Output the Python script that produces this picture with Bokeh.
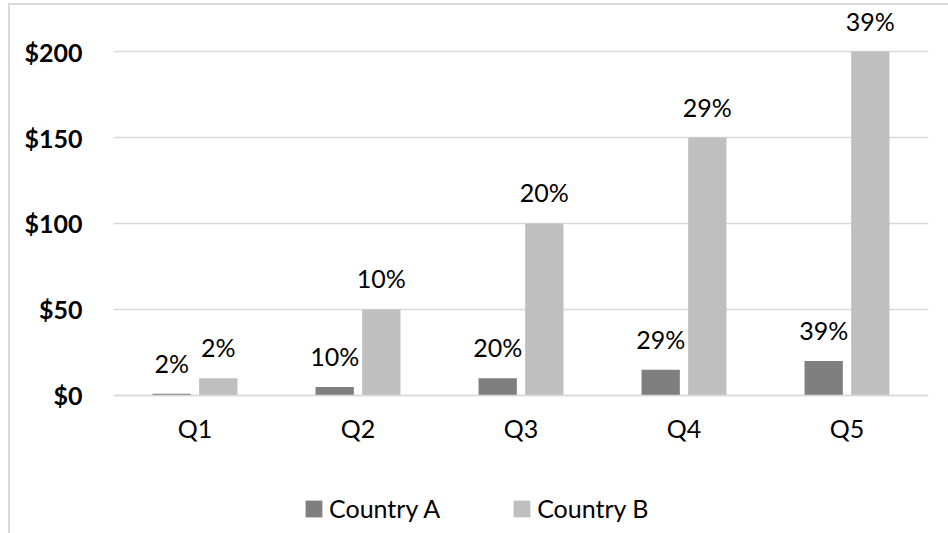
from bokeh.plotting import figure
from bokeh.models import (ColumnDataSource, FactorRange, Range1d, FixedTicker,
                          NumeralTickFormatter, Legend, LegendItem)
from bokeh.transform import dodge
from bokeh.core.properties import value
from bokeh.embed import file_html
from bokeh.resources import INLINE

# --- data -------------------------------------------------------------
quarters = ["Q1", "Q2", "Q3", "Q4", "Q5"]
country_a = [1, 5, 10, 15, 20]
country_b = [10, 50, 100, 150, 200]
y_ticks = [0, 50, 100, 150, 200]

# share of each country's total, shown above its bar
def shares(vals):
    total = sum(vals)
    return [f"{round(v / total * 100)}%" for v in vals]

src = ColumnDataSource(dict(
    q=quarters,
    a=country_a,
    b=country_b,
    a_lbl=shares(country_a),
    b_lbl=shares(country_b),
))

FONT = "Lato"
GRID = "#d9d9d9"
COL_A = "#7f7f7f"
COL_B = "#bfbfbf"

# the frame runs below zero so the category labels and legend sit inside it
p = figure(
    x_range=FactorRange(factors=quarters, range_padding=0),
    y_range=Range1d(-77.33, 223.84),
    frame_width=815, frame_height=518,
    min_border_left=103, min_border_right=20,
    min_border_top=5, min_border_bottom=5,
    output_backend="svg", toolbar_location=None,
)
p.styles = {
    "margin-left": "8px", "margin-top": "3px",
    "border-left": f"2px solid {GRID}", "border-top": f"2px solid {GRID}",
}
p.outline_line_color = None
p.background_fill_color = "white"
p.border_fill_color = "white"

off, w = 0.143, 0.235
ra = p.vbar(x=dodge("q", -off, range=p.x_range), top="a", width=w, source=src,
            fill_color=COL_A, line_color=None)
rb = p.vbar(x=dodge("q", off, range=p.x_range), top="b", width=w, source=src,
            fill_color=COL_B, line_color=None)

for col, lbl, dx in (("a", "a_lbl", -off), ("b", "b_lbl", off)):
    p.text(x=dodge("q", dx, range=p.x_range), y=col, text=lbl, source=src,
           text_align="center", text_baseline="alphabetic", y_offset=-31,
           text_font=value(FONT), text_font_size="25px", text_color="black")

# gridlines
p.xgrid.visible = False
p.ygrid.ticker = FixedTicker(ticks=y_ticks)
p.ygrid.grid_line_color = GRID
p.ygrid.grid_line_width = 1.5

# y axis
ya = p.yaxis[0]
ya.ticker = FixedTicker(ticks=y_ticks)
ya.formatter = NumeralTickFormatter(format="$0")
ya.axis_line_color = None
ya.major_tick_line_color = None
ya.minor_tick_line_color = None
ya.major_tick_out = 0
ya.major_tick_in = 0
ya.major_label_standoff = 31
ya.major_label_text_font = FONT
ya.major_label_text_font_style = "bold"
ya.major_label_text_font_size = "25px"
ya.major_label_text_color = "black"

# x axis pinned at zero
xa = p.xaxis[0]
xa.fixed_location = 0
xa.axis_line_color = GRID
xa.axis_line_width = 1.5
xa.major_tick_line_color = None
xa.minor_tick_line_color = None
xa.major_tick_out = 0
xa.major_tick_in = 0
xa.major_label_standoff = 18
xa.major_label_text_font = FONT
xa.major_label_text_font_size = "25px"
xa.major_label_text_color = "black"

# legend swatches are drawn inset by 10%, so the glyph box is a bit larger
legend = Legend(
    items=[LegendItem(label="Country A", renderers=[ra]),
           LegendItem(label="Country B", renderers=[rb])],
    orientation="horizontal",
    location=(190, 5),
    glyph_width=21, glyph_height=21,
    label_standoff=5, spacing=71,
    padding=0, margin=0,
    border_line_color=None, background_fill_alpha=0,
    label_text_font=FONT, label_text_font_size="25px",
    label_text_color="black",
)
p.add_layout(legend, "center")

open("out.html", "w").write(file_html(p, INLINE))
